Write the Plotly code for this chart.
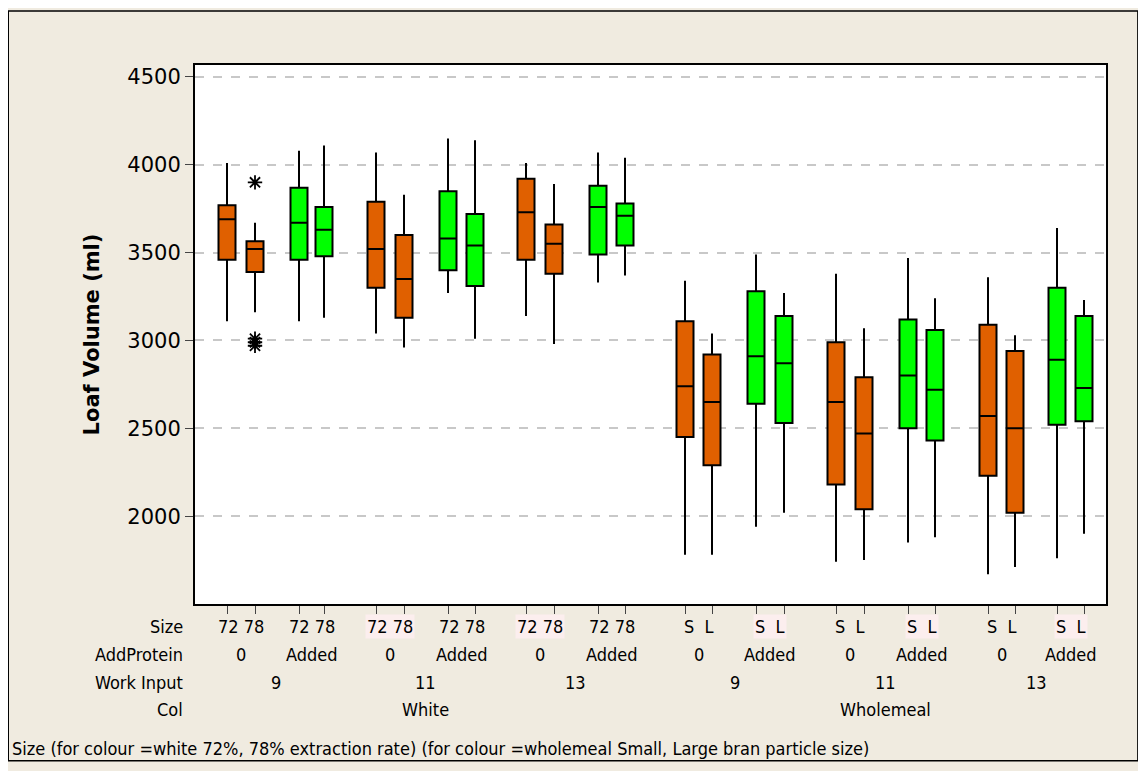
import plotly.graph_objects as go

positions = [227,255,299,324,376,404,448,475,526,554,598,625,685,712,756,784,836,864,908,935,988,1015,1057,1084]
upper = [4010,3670,4080,4110,4070,3830,4150,4140,4010,3890,4070,4040,3340,3040,3490,3270,3380,3070,3470,3240,3360,3030,3640,3230]
q3    = [3770,3565,3870,3760,3790,3600,3850,3720,3920,3660,3880,3780,3110,2920,3280,3140,2990,2790,3120,3060,3090,2940,3300,3140]
med   = [3690,3520,3670,3630,3520,3350,3580,3540,3730,3550,3760,3710,2740,2650,2910,2870,2650,2470,2800,2720,2570,2500,2890,2730]
q1    = [3460,3390,3460,3480,3300,3130,3400,3310,3460,3380,3490,3540,2450,2290,2640,2530,2180,2040,2500,2430,2230,2020,2520,2540]
lower = [3110,3160,3110,3130,3040,2960,3270,3010,3140,2980,3330,3370,1780,1780,1940,2020,1740,1750,1850,1880,1670,1710,1760,1900]
protein = ["0","0","Added","Added"]*6
outlier_x = [255,255,255,255]
outlier_y = [3900,2970,2990,3010]
size_labels = ["72 78"]*6 + ["S  L"]*6
protein_labels = ["0","Added"]*6
work_labels = ["9","11","13","9","11","13"]
col_labels = ["White","Wholemeal"]
ORANGE = "#E06000"; GREEN = "#00FF00"

fig = go.Figure()
for i,p in enumerate(positions):
    c = ORANGE if protein[i]=="0" else GREEN
    fig.add_trace(go.Box(x=[p], q1=[q1[i]], median=[med[i]], q3=[q3[i]],
        lowerfence=[lower[i]], upperfence=[upper[i]], width=17,
        fillcolor=c, line=dict(color="black", width=2), boxpoints=False,
        whiskerwidth=0, showlegend=False))
fig.add_trace(go.Scatter(x=outlier_x, y=outlier_y, mode="markers",
    marker=dict(symbol="asterisk-open", size=12, color="black", line=dict(width=1.8, color="black")),
    showlegend=False))

ann = []
f = dict(family="DejaVu Sans Condensed, sans-serif", size=18, color="black")
pink = [False,False,True,False,True,False,False,True,False,True,False,True]
rows = [-0.041, -0.093, -0.145, -0.195]
for k in range(12):
    cx = (positions[2*k]+positions[2*k+1])/2
    ann.append(dict(x=cx, y=rows[0], xref="x", yref="paper", text=size_labels[k], showarrow=False,
        font=f, yanchor="middle", bgcolor="#FCEEEE" if pink[k] else None))
    ann.append(dict(x=cx, y=rows[1], xref="x", yref="paper", text=protein_labels[k], showarrow=False, font=f, yanchor="middle"))
for k in range(6):
    cx = (positions[4*k]+positions[4*k+3])/2
    ann.append(dict(x=cx, y=rows[2], xref="x", yref="paper", text=work_labels[k], showarrow=False, font=f, yanchor="middle"))
for k in range(2):
    cx = (positions[12*k+4]+positions[12*k+7])/2
    ann.append(dict(x=cx, y=rows[3], xref="x", yref="paper", text=col_labels[k], showarrow=False, font=f, yanchor="middle"))
for j,t in enumerate(["Size","AddProtein","Work Input","Col"]):
    ann.append(dict(x=-0.011, y=rows[j], xref="paper", yref="paper", text=t, showarrow=False, font=f,
        xanchor="right", yanchor="middle"))
ann.append(dict(x=-0.203, y=-0.269, xref="paper", yref="paper", xanchor="left", yanchor="middle",
    text="Size (for colour =white 72%, 78% extraction rate) (for colour =wholemeal Small, Large bran particle size)",
    showarrow=False, font=f))

fig.update_layout(
    width=1146, height=771, paper_bgcolor="#F0EBE0", plot_bgcolor="white",
    margin=dict(l=187, r=48, t=57, b=175),
    annotations=ann,
    shapes=[dict(type="rect", xref="paper", yref="paper", x0=-0.205, x1=1.035, y0=-0.291, y1=1.100,
                 line=dict(color="black", width=1.5), layer="below")],
    xaxis=dict(range=[195,1106], tickvals=positions, ticktext=[""]*24, ticks="outside", ticklen=8,
               automargin=False, showgrid=False, zeroline=False, showline=True, linecolor="black",
               linewidth=2, mirror=True),
    yaxis=dict(range=[1500,4568], tickvals=[2000,2500,3000,3500,4000,4500], ticks="outside", ticklen=8,
               automargin=False, showgrid=True, gridcolor="#C8C8C8", gridwidth=1.5, griddash="dash", zeroline=False,
               showline=True, linecolor="black", linewidth=2, mirror=True,
               tickfont=dict(family="DejaVu Sans, sans-serif", size=21, color="black"),
               title=dict(text="<b>Loaf Volume (ml)</b>", font=dict(family="DejaVu Sans, sans-serif", size=21, color="black"), standoff=22)),
)
fig.write_html("out.html")
